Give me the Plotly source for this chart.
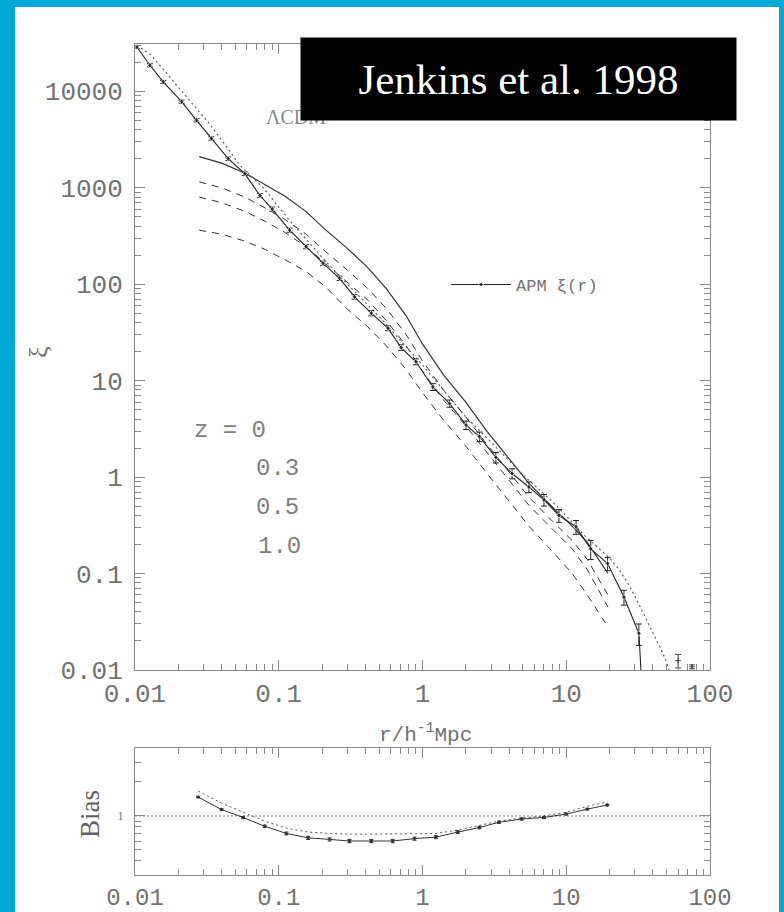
import plotly.graph_objects as go

# ---------------- data: main panel (xi vs r) ----------------
r_model = [0.028, 0.04, 0.058, 0.08, 0.11, 0.155, 0.21, 0.3, 0.41, 0.56, 0.77,
           1.0, 1.4, 2.0, 2.8, 4.0, 5.5, 8.0, 11, 14, 19.5]
xi_z00 = [2100, 1800, 1420, 1080, 820, 565, 370, 235, 152, 90, 47,
          24, 11.5, 6.0, 3.0, 1.55, 0.86, 0.49, 0.31, 0.21, 0.10]
xi_z03 = [1150, 1000, 800, 620, 470, 330, 220, 140, 92, 56, 30,
          16, 8.0, 4.2, 2.2, 1.12, 0.62, 0.35, 0.22, 0.14, 0.06]
xi_z05 = [800, 700, 570, 450, 345, 245, 165, 105, 70, 42, 23,
          12.5, 6.3, 3.4, 1.8, 0.92, 0.51, 0.29, 0.18, 0.11, 0.045]
xi_z10 = [363, 330, 280, 230, 180, 135, 95, 55, 37, 23, 13,
          7.5, 3.9, 2.1, 1.1, 0.57, 0.31, 0.17, 0.10, 0.06, 0.028]

r_apm = [0.0103, 0.0127, 0.0157, 0.0211, 0.0268, 0.034, 0.0445, 0.058, 0.074, 0.09,
         0.119, 0.155, 0.203, 0.265, 0.337, 0.44, 0.575, 0.71, 0.90, 1.18,
         1.54, 2.01, 2.49, 3.24, 4.2, 5.5, 7.0, 8.9, 11.7, 14.8,
         19.4, 25.2, 32, 34]
xi_apm = [28800, 18600, 12500, 7800, 5000, 3240, 2000, 1400, 830, 600,
          363, 245, 165, 115, 74, 50, 35, 22, 15.7, 8.6,
          5.8, 3.46, 2.63, 1.6, 1.09, 0.79, 0.58, 0.40, 0.305, 0.18,
          0.127, 0.057, 0.024, 0.005]
err_apm = [1000, 700, 450, 300, 200, 130, 80, 60, 40, 30,
           18, 12, 8, 6, 4, 3, 2, 1.5, 1.1, 0.7,
           0.5, 0.35, 0.3, 0.2, 0.13, 0.1, 0.08, 0.06, 0.05, 0.04,
           0.02, 0.01, 0.006, 0]
apm_marker = [4] * 33 + [0]

r_apm_tail = [60, 75]
xi_apm_tail = [0.0125, 0.0108]
err_apm_tail = [0.002, 0.0005]

r_dot = [0.0103, 0.013, 0.0275, 0.0323, 0.0434, 0.0537, 0.078, 0.12, 0.2, 0.3,
         0.5, 1.0, 2.0, 3.0, 5.0, 8.0, 13.7, 17, 20, 23.3,
         27.5, 32, 40, 46, 50, 54]
xi_dot = [30000, 23600, 6300, 4800, 2650, 1700, 1000, 450, 190, 100,
          46, 14.5, 4.2, 2.3, 1.05, 0.56, 0.24, 0.18, 0.145, 0.11,
          0.075, 0.048, 0.025, 0.016, 0.012, 0.008]

# ---------------- data: bias panel ----------------
r_bias = [0.0275, 0.04, 0.0565, 0.08, 0.113, 0.16, 0.226, 0.31, 0.44, 0.62,
          0.88, 1.24, 1.76, 2.49, 3.4, 4.9, 7.0, 10, 14, 19.3]
bias_z0 = [1.47, 1.14, 0.97, 0.81, 0.70, 0.64, 0.62, 0.60, 0.60, 0.60,
           0.63, 0.65, 0.72, 0.79, 0.88, 0.94, 0.97, 1.04, 1.15, 1.25]
bias_dot = [1.66, 1.30, 1.08, 0.90, 0.78, 0.72, 0.70, 0.69, 0.69, 0.69,
            0.69, 0.70, 0.75, 0.83, 0.90, 0.96, 1.0, 1.08, 1.22, 1.33]
bias_err = [0.02] * 20
r_unity = [0.01, 100]
unity = [1, 1]

x_ticks = [0.01, 0.1, 1, 10, 100]
x_ticklabels = ["0.01", "0.1", "1", "10", "100"]
y_ticks = [0.01, 0.1, 1, 10, 100, 1000, 10000]
y_ticklabels = ["0.01", "0.1", "1", "10", "100", "1000", "10000"]
z_labels = ["z = 0", "0.3", "0.5", "1.0"]

# ---------------- layout helpers ----------------
W, H = 784, 912
def px(x):
    return x / W
def py(y):
    return 1 - y / H

LINE = "#333333"
AX = "#8a8a8a"
TXT = "#727272"
MONO = "Liberation Mono"
SERIF = "Liberation Serif"

minor_x = [m * 10 ** e for e in range(-2, 2) for m in range(2, 10)]
minor_y = [m * 10 ** e for e in range(-2, 5) for m in range(2, 10)]
minor_b = [0.4, 0.5, 0.6, 0.7, 0.8, 0.9, 2, 3]

fig = go.Figure()

dash_style = "7px,6px"
for vals in (xi_z03, xi_z05, xi_z10):
    fig.add_trace(go.Scatter(x=r_model, y=vals, mode="lines",
                             line=dict(color=LINE, width=1, dash=dash_style),
                             showlegend=False, xaxis="x", yaxis="y"))
fig.add_trace(go.Scatter(x=r_model, y=xi_z00, mode="lines",
                         line=dict(color=LINE, width=1.2),
                         showlegend=False, xaxis="x", yaxis="y"))
fig.add_trace(go.Scatter(x=r_dot, y=xi_dot, mode="lines",
                         line=dict(color="#555555", width=1.1, dash="2px,3px"),
                         showlegend=False, xaxis="x", yaxis="y"))
fig.add_trace(go.Scatter(x=r_apm, y=xi_apm, mode="lines+markers",
                         name="APM \u03be(r)",
                         line=dict(color="#222222", width=1.1),
                         marker=dict(color="#222222", size=apm_marker, symbol="diamond"),
                         error_y=dict(type="data", array=err_apm, color="#222222",
                                      thickness=1, width=3),
                         showlegend=True, xaxis="x", yaxis="y"))
fig.add_trace(go.Scatter(x=r_apm_tail, y=xi_apm_tail, mode="markers",
                         marker=dict(color="#444444", size=4, symbol="cross-thin",
                                     line=dict(color="#444444", width=1)),
                         error_y=dict(type="data", array=err_apm_tail, color="#444444",
                                      thickness=1, width=3),
                         showlegend=False, xaxis="x", yaxis="y"))

# bias panel
fig.add_trace(go.Scatter(x=r_unity, y=unity, mode="lines",
                         line=dict(color="#777777", width=1, dash="2px,2px"),
                         showlegend=False, xaxis="x2", yaxis="y2"))
fig.add_trace(go.Scatter(x=r_bias, y=bias_dot, mode="lines",
                         line=dict(color="#555555", width=1, dash="2px,3px"),
                         showlegend=False, xaxis="x2", yaxis="y2"))
fig.add_trace(go.Scatter(x=r_bias, y=bias_z0, mode="lines+markers",
                         line=dict(color="#333333", width=1),
                         marker=dict(color="#333333", size=3, symbol="diamond"),
                         error_y=dict(type="data", array=bias_err, color="#333333",
                                      thickness=1, width=2),
                         showlegend=False, xaxis="x2", yaxis="y2"))

axis_common = dict(type="log", showgrid=False, zeroline=False, showline=True,
                   linecolor=AX, linewidth=1, mirror="allticks", ticks="inside",
                   tickcolor=AX, ticklen=10, tickwidth=1, automargin=False,
                   tickfont=dict(family=MONO, size=26, color=TXT))

fig.update_layout(
    width=W, height=H,
    margin=dict(l=0, r=0, t=0, b=0, autoexpand=False),
    paper_bgcolor="#00a9d6",
    plot_bgcolor="white",
    showlegend=True,
    legend=dict(x=px(446), y=py(285), xanchor="left", yanchor="middle",
                bgcolor="rgba(0,0,0,0)", font=dict(family=MONO, size=17, color=TXT),
                itemwidth=60),
    xaxis=dict(axis_common, domain=[px(135), px(710)], range=[-2, 2],
               anchor="y", tickvals=x_ticks, ticktext=x_ticklabels,
               ticklabelstandoff=0,
               minor=dict(tickvals=minor_x, ticks="inside", ticklen=6,
                          tickcolor=AX, showgrid=False)),
    yaxis=dict(axis_common, domain=[py(670), py(44)], range=[-2, 4.49],
               anchor="x", tickvals=y_ticks, ticktext=y_ticklabels,
               ticklabelstandoff=6,
               minor=dict(tickvals=minor_y, ticks="inside", ticklen=6,
                          tickcolor=AX, showgrid=False)),
    xaxis2=dict(axis_common, domain=[px(135), px(710)], range=[-2, 2],
                anchor="y2", tickvals=x_ticks, ticktext=x_ticklabels,
                ticklabelstandoff=0,
                tickfont=dict(family=MONO, size=24, color=TXT),
                minor=dict(tickvals=minor_x, ticks="inside", ticklen=6,
                           tickcolor=AX, showgrid=False)),
    yaxis2=dict(axis_common, domain=[py(875), py(748)],
                range=[-0.5229, 0.6021], anchor="x2",
                tickvals=[1], ticktext=["1"],
                tickfont=dict(family=SERIF, size=12, color=TXT),
                ticklabelstandoff=8,
                minor=dict(tickvals=minor_b, ticks="inside", ticklen=6,
                           tickcolor=AX, showgrid=False)),
)

shapes = [
    dict(type="rect", xref="paper", yref="paper", x0=px(15), x1=px(779),
         y0=0, y1=py(7), fillcolor="white", line=dict(width=0), layer="below"),
]
fig.update_layout(shapes=shapes)

ann = []
ann.append(dict(x=px(264), y=py(117), xref="paper", yref="paper", xanchor="left",
                yanchor="middle", text="\u039bCDM", showarrow=False,
                font=dict(family=SERIF, size=20, color="#888888")))
ann.append(dict(x=px(518.5), y=py(79), xref="paper", yref="paper", xanchor="center",
                yanchor="middle", text="Jenkins et al. 1998", showarrow=False,
                bgcolor="black", width=435, height=82, borderpad=0,
                font=dict(family=SERIF, size=43, color="white")))
z_pos = [(192, 430), (254, 469), (254, 508), (256, 546)]
for lab, (xx, yy) in zip(z_labels, z_pos):
    ann.append(dict(x=px(xx), y=py(yy), xref="paper", yref="paper", xanchor="left",
                    yanchor="middle", text=lab, showarrow=False,
                    font=dict(family=MONO, size=24, color="#808080")))
ann.append(dict(x=px(38), y=py(352), xref="paper", yref="paper", text="\u03be",
                textangle=-90, showarrow=False, xanchor="center", yanchor="middle",
                font=dict(family=SERIF, size=26, color=TXT)))
ann.append(dict(x=px(425), y=py(733), xref="paper", yref="paper",
                text="r/h<sup>-1</sup>Mpc", showarrow=False,
                xanchor="center", yanchor="middle",
                font=dict(family=MONO, size=21, color=TXT)))
ann.append(dict(x=px(90), y=py(814), xref="paper", yref="paper", text="Bias",
                textangle=-90, showarrow=False, xanchor="center", yanchor="middle",
                font=dict(family=SERIF, size=27, color="#606060")))
fig.update_layout(annotations=ann)

fig.write_html("out.html")
